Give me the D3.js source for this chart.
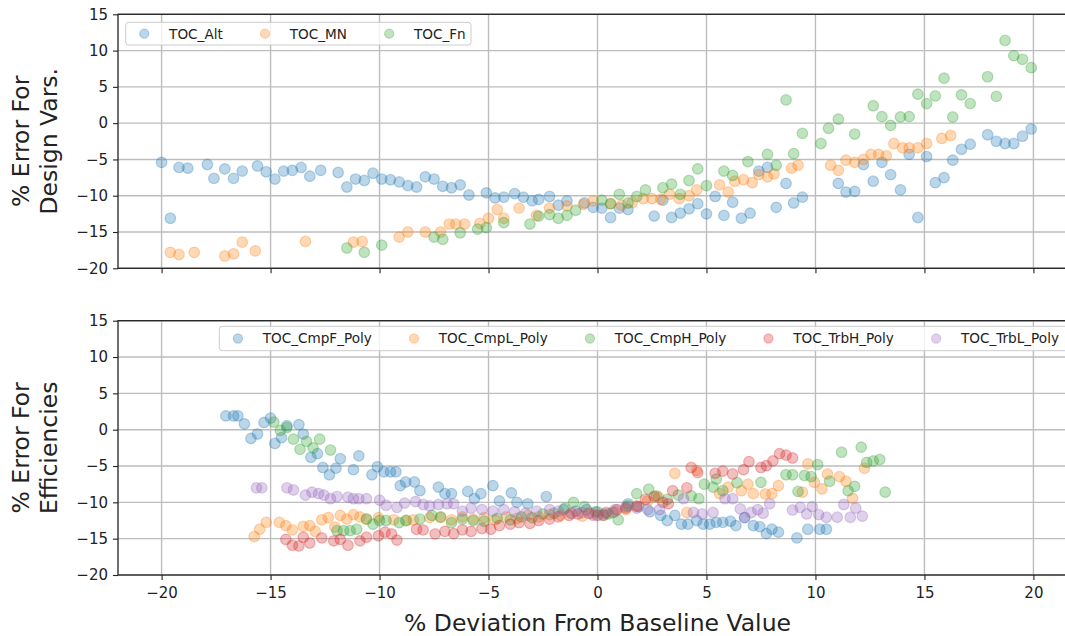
<!DOCTYPE html>
<html>
<head>
<meta charset="utf-8">
<script src="https://cdn.jsdelivr.net/npm/d3@7"></script>
<style>
  html, body { margin: 0; padding: 0; background: #fff; overflow: hidden; }
  svg { display: block; font-family: "DejaVu Sans", sans-serif; }
</style>
</head>
<body>
<svg id="chart" width="1065" height="636"></svg>
<script>
// ---------- data ----------
const xTicks = [-20, -15, -10, -5, 0, 5, 10, 15, 20];
const yTicks = [-20, -15, -10, -5, 0, 5, 10, 15];

const topSeriesNames = ["TOC_Alt", "TOC_MN", "TOC_Fn"];
const botSeriesNames = ["TOC_CmpF_Poly", "TOC_CmpL_Poly", "TOC_CmpH_Poly", "TOC_TrbH_Poly", "TOC_TrbL_Poly"];
const seriesColors = ["#1f77b4", "#ff7f0e", "#2ca02c", "#d62728", "#9467bd"];

const tocAlt = [[-20,-5.4],[-19.6,-13.1],[-19.2,-6.1],[-18.8,-6.2],[-17.9,-5.7],[-17.6,-7.6],[-17.1,-6.3],[-16.7,-7.6],[-16.3,-6.6],[-15.6,-5.9],[-15.2,-6.7],[-14.8,-7.7],[-14.4,-6.6],[-14.0,-6.5],[-13.6,-6.1],[-13.2,-7.3],[-12.7,-6.5],[-11.9,-6.8],[-11.5,-8.8],[-11.1,-7.7],[-10.7,-7.9],[-10.3,-6.9],[-9.9,-7.7],[-9.5,-7.8],[-9.1,-8.1],[-8.7,-8.6],[-8.3,-8.8],[-7.9,-7.4],[-7.5,-7.7],[-7.1,-8.7],[-6.7,-8.9],[-6.3,-8.5],[-5.9,-9.9],[-5.1,-9.6],[-4.7,-10.3],[-4.3,-10.2],[-3.8,-9.7],[-3.4,-10.2],[-3.0,-10.7],[-2.7,-10.5],[-2.2,-10.1],[-1.8,-11.3],[-1.4,-10.7],[-0.6,-11.0],[-0.2,-11.6],[0.2,-11.7],[0.6,-13.0],[1.0,-11.7],[1.4,-11.9],[2.6,-12.8],[3.0,-10.6],[3.4,-13.0],[3.8,-12.4],[4.2,-11.8],[4.6,-11.1],[5.0,-12.5],[5.4,-10.1],[5.8,-12.7],[6.2,-10.9],[6.6,-13.1],[7.0,-12.4],[7.4,-6.6],[7.8,-6.1],[8.2,-11.6],[8.65,-8.3],[9.0,-11.0],[9.4,-10.2],[11.05,-8.3],[11.4,-9.5],[11.8,-9.4],[12.2,-5.7],[12.65,-8.0],[13.05,-5.4],[13.45,-7.1],[13.9,-9.2],[14.3,-4.3],[14.7,-13.0],[15.1,-4.6],[15.5,-8.2],[15.9,-7.5],[16.3,-5.1],[16.7,-3.6],[17.1,-2.9],[17.9,-1.6],[18.3,-2.5],[18.7,-2.8],[19.1,-2.8],[19.5,-1.8],[19.9,-0.8]];

const tocMN = [[-19.6,-17.8],[-19.2,-18.1],[-18.5,-17.8],[-17.1,-18.3],[-16.7,-18.0],[-16.3,-16.4],[-15.7,-17.6],[-13.4,-16.3],[-11.2,-16.4],[-10.8,-16.3],[-9.1,-15.7],[-8.7,-15.0],[-7.9,-15.0],[-7.2,-15.0],[-6.8,-13.9],[-6.5,-13.9],[-6.1,-13.9],[-5.4,-13.8],[-5.0,-13.1],[-4.6,-11.9],[-4.3,-13.1],[-3.6,-11.7],[-2.8,-12.7],[-2.2,-11.7],[-1.4,-11.4],[-0.65,-11.2],[-0.2,-10.7],[0.6,-11.1],[1.1,-11.3],[1.6,-10.9],[2.1,-10.4],[2.5,-10.4],[2.9,-10.5],[3.3,-9.8],[3.75,-10.4],[4.2,-10.0],[4.55,-9.2],[5.6,-8.5],[6.0,-9.5],[6.3,-8.0],[6.7,-7.8],[7.1,-8.2],[7.4,-7.1],[7.8,-7.4],[8.1,-7.0],[8.9,-6.2],[9.2,-5.8],[10.7,-5.8],[11.05,-6.5],[11.4,-5.1],[11.8,-5.4],[12.2,-5.0],[12.55,-4.3],[12.9,-4.3],[13.25,-4.5],[13.6,-2.8],[14.0,-3.4],[14.3,-3.4],[14.7,-3.4],[15.1,-2.8],[15.8,-2.1],[16.2,-1.7]];

const tocFn = [[-11.5,-17.2],[-10.7,-17.8],[-9.9,-16.8],[-7.5,-15.7],[-7.1,-16.0],[-6.3,-15.1],[-5.5,-14.6],[-5.1,-14.4],[-4.3,-13.7],[-3.1,-13.9],[-2.7,-12.8],[-2.2,-12.6],[-1.8,-13.1],[-1.4,-12.7],[-1.0,-12.0],[0.2,-10.6],[0.6,-11.1],[1.0,-9.8],[1.4,-11.0],[1.8,-10.1],[2.2,-9.2],[3.0,-8.9],[3.4,-8.4],[3.8,-9.8],[4.2,-7.9],[4.6,-6.3],[5.0,-8.6],[5.8,-6.6],[6.2,-7.2],[6.9,-5.3],[7.8,-4.3],[8.2,-5.8],[8.65,3.2],[9.0,-4.2],[9.4,-1.4],[10.25,-2.8],[10.6,-0.7],[11.05,0.55],[11.8,-1.5],[12.65,2.4],[13.05,0.9],[13.45,-0.3],[13.9,0.85],[14.3,0.9],[14.7,4.0],[15.1,2.7],[15.5,3.75],[15.9,6.2],[16.3,0.85],[16.7,3.9],[17.1,2.7],[17.9,6.4],[18.3,3.7],[18.7,11.4],[19.1,9.3],[19.5,8.8],[19.9,7.65]];

const tocCmpF = [[-17.05,1.9],[-16.7,1.9],[-16.5,1.9],[-16.2,0.8],[-15.9,-1.2],[-15.6,-0.6],[-15.3,1.0],[-15.0,1.6],[-14.8,-1.9],[-14.5,-1.1],[-14.25,0.55],[-13.7,0.7],[-13.5,-0.6],[-13.15,-3.8],[-12.85,-3.3],[-12.6,-5.2],[-12.3,-6.2],[-12.0,-5.3],[-11.8,-4.0],[-11.2,-5.5],[-10.95,-3.6],[-10.35,-6.2],[-10.1,-5.1],[-9.8,-5.8],[-9.5,-5.8],[-9.25,-5.8],[-9.05,-7.7],[-8.8,-7.2],[-8.4,-7.2],[-8.15,-8.4],[-7.3,-7.9],[-7.0,-8.8],[-6.7,-8.8],[-5.95,-8.5],[-5.65,-9.5],[-5.35,-8.8],[-4.8,-7.7],[-4.5,-9.8],[-3.95,-8.7],[-3.7,-10.0],[-3.2,-10.2],[-2.35,-9.2],[-1.55,-11.0],[-1.0,-11.2],[-0.5,-11.0],[-0.1,-11.3],[0.25,-11.8],[0.7,-11.4],[1.4,-10.2],[1.9,-10.6],[2.4,-11.3],[2.9,-11.8],[3.2,-12.5],[3.55,-11.8],[3.85,-13.0],[4.15,-13.0],[4.55,-12.5],[4.85,-13.0],[5.15,-13.0],[5.45,-12.75],[5.75,-12.75],[6.1,-12.6],[6.35,-13.2],[6.75,-12.1],[7.15,-13.2],[7.45,-13.35],[7.75,-14.3],[8.0,-13.7],[8.3,-14.1],[9.15,-14.9],[9.65,-13.7],[10.2,-13.7],[10.5,-13.7]];

const tocCmpL = [[-15.75,-14.7],[-15.5,-13.7],[-15.2,-12.75],[-14.6,-12.75],[-14.3,-13.2],[-14.0,-13.8],[-13.5,-13.3],[-13.2,-13.2],[-12.95,-14.0],[-12.65,-12.4],[-12.35,-12.1],[-12.05,-13.4],[-11.8,-11.8],[-11.5,-12.3],[-11.2,-11.7],[-10.9,-12.0],[-10.6,-12.3],[-10.05,-12.1],[-9.35,-12.4],[-8.75,-12.5],[-8.45,-12.4],[-7.7,-12.1],[-7.2,-12.1],[-6.7,-12.4],[-6.2,-12.0],[-5.7,-12.3],[-5.2,-12.1],[-4.7,-12.4],[-4.2,-12.0],[-3.7,-12.2],[-3.2,-11.8],[-2.7,-12.0],[-2.2,-11.7],[-1.7,-11.8],[-1.2,-11.5],[-0.7,-11.9],[-0.2,-11.6],[0.3,-11.8],[0.8,-11.3],[1.3,-11.0],[1.8,-10.6],[2.3,-9.8],[2.8,-9.3],[3.55,-6.0],[4.1,-11.4],[4.55,-5.6],[5.6,-8.8],[6.0,-7.9],[6.6,-8.4],[6.9,-7.5],[7.15,-8.8],[7.7,-8.85],[8.0,-8.8],[8.3,-7.7],[9.4,-8.6],[9.65,-4.7],[9.95,-7.25],[10.3,-8.15],[10.55,-6.1],[11.1,-6.45],[11.4,-7.1],[11.7,-9.45],[12.25,-5.3]];

const tocCmpH = [[-14.85,1.05],[-14.55,-0.1],[-14.25,0.3],[-13.95,-1.3],[-13.65,-2.7],[-13.35,-1.6],[-13.05,-2.5],[-12.75,-1.3],[-12.25,-2.8],[-11.95,-13.9],[-11.65,-13.9],[-11.35,-13.9],[-11.05,-13.7],[-10.6,-12.3],[-10.3,-13.0],[-10.0,-12.5],[-9.7,-12.5],[-9.1,-12.8],[-8.8,-12.5],[-8.15,-12.3],[-7.6,-11.8],[-7.2,-12.0],[-6.7,-12.8],[-6.2,-12.3],[-5.7,-12.5],[-5.2,-12.6],[-4.6,-12.2],[-4.0,-12.4],[-3.5,-12.0],[-3.0,-12.1],[-2.5,-11.6],[-2.0,-11.5],[-1.5,-10.8],[-1.1,-10.0],[-0.6,-10.6],[0.0,-11.3],[0.5,-11.6],[0.95,-12.4],[1.4,-10.5],[1.8,-8.8],[2.35,-8.2],[2.7,-9.1],[3.2,-9.6],[3.7,-9.0],[4.3,-9.1],[4.65,-9.5],[4.9,-7.5],[5.3,-7.9],[5.45,-6.8],[5.75,-8.4],[6.4,-7.3],[7.5,-7.25],[8.65,-6.2],[8.95,-6.2],[9.2,-8.5],[9.5,-6.3],[9.8,-6.45],[10.1,-4.8],[10.65,-7.1],[11.2,-3.1],[11.5,-8.4],[11.8,-7.8],[12.1,-2.4],[12.35,-4.5],[12.65,-4.3],[12.95,-4.1],[13.2,-8.6]];

const tocTrbH = [[-14.3,-15.1],[-14.0,-15.9],[-13.7,-16.0],[-13.5,-14.8],[-13.2,-15.6],[-12.65,-14.9],[-12.1,-15.3],[-11.8,-15.1],[-11.45,-15.9],[-10.9,-15.3],[-10.6,-14.8],[-10.05,-14.6],[-9.75,-14.1],[-9.45,-14.35],[-9.2,-15.2],[-8.3,-13.7],[-8.0,-13.8],[-7.45,-14.35],[-7.0,-14.0],[-6.6,-14.3],[-6.2,-13.8],[-5.8,-14.0],[-5.3,-13.6],[-4.9,-13.7],[-4.5,-13.2],[-4.0,-13.0],[-3.6,-12.8],[-3.1,-12.9],[-2.7,-12.5],[-2.2,-12.3],[-1.8,-12.0],[-1.3,-11.8],[-0.9,-11.6],[-0.4,-11.5],[0.0,-11.8],[0.4,-11.4],[0.9,-11.0],[1.3,-10.8],[1.8,-10.5],[2.2,-9.6],[2.6,-9.2],[3.0,-10.0],[3.25,-10.2],[3.45,-8.4],[4.1,-8.0],[4.3,-5.2],[4.6,-5.9],[5.4,-6.0],[5.75,-5.7],[6.2,-6.1],[6.7,-5.5],[6.95,-4.4],[7.5,-5.2],[7.75,-4.95],[8.05,-4.3],[8.35,-3.3],[8.65,-3.5],[8.95,-3.9]];

const tocTrbL = [[-15.65,-8.0],[-15.4,-8.0],[-14.25,-8.0],[-13.95,-8.3],[-13.4,-9.0],[-13.1,-8.6],[-12.8,-8.8],[-12.55,-9.0],[-12.25,-9.5],[-11.95,-9.2],[-11.45,-9.3],[-11.2,-9.5],[-10.95,-9.5],[-10.6,-9.5],[-10.0,-9.7],[-9.7,-10.4],[-9.2,-10.7],[-8.85,-10.1],[-8.35,-9.9],[-8.0,-10.3],[-7.7,-10.5],[-7.3,-10.3],[-6.9,-10.2],[-6.6,-10.2],[-6.2,-11.2],[-5.8,-10.8],[-5.3,-11.0],[-4.8,-11.2],[-4.3,-11.0],[-3.8,-11.3],[-3.3,-11.5],[-2.8,-11.2],[-2.2,-11.0],[-1.8,-11.2],[-1.2,-11.5],[-0.7,-11.4],[-0.2,-11.8],[0.3,-11.6],[0.8,-11.0],[1.3,-10.6],[1.8,-10.8],[2.3,-11.0],[2.85,-11.0],[3.95,-9.5],[4.4,-11.4],[4.8,-11.6],[5.3,-11.4],[5.85,-9.5],[6.2,-9.5],[6.55,-10.9],[6.75,-12.1],[7.05,-11.4],[7.35,-11.0],[7.6,-11.5],[7.9,-10.2],[8.95,-11.05],[9.3,-10.7],[9.6,-11.6],[9.85,-10.6],[10.15,-11.7],[10.5,-12.05],[11.0,-12.05],[11.3,-10.3],[11.6,-12.05],[11.85,-10.8],[12.15,-11.9]];

const topSeries = [tocAlt, tocMN, tocFn];
const botSeries = [tocCmpF, tocCmpL, tocCmpH, tocTrbH, tocTrbL];

// ---------- layout ----------
const svg = d3.select("#chart");
const FONT = "DejaVu Sans, sans-serif";
const left = 118, right = 1077;
const x = d3.scaleLinear().domain([-22, 22]).range([left, right]);
const panels = [
  { top: 14.3, bottom: 268.3, series: topSeries, names: topSeriesNames, label: ["% Error For", "Design Vars."], showX: false,
    legend: { x: 125.7, y: 22.3, h: 22.7, w: 345.3 } },
  { top: 320.7, bottom: 575, series: botSeries, names: botSeriesNames, label: ["% Error For", "Efficiencies"], showX: true,
    legend: { x: 219.3, y: 326.3, h: 24.4, w: null } }
];
const fmt = v => (v < 0 ? "\u2212" + Math.abs(v) : String(v));

panels.forEach((p, pi) => {
  const y = d3.scaleLinear().domain([-20, 15]).range([p.bottom, p.top]);
  const g = svg.append("g");

  // grid
  g.append("g").selectAll("line.gx").data(xTicks).join("line")
    .attr("x1", d => x(d)).attr("x2", d => x(d))
    .attr("y1", p.top).attr("y2", p.bottom)
    .attr("stroke", "#bdbdbd").attr("stroke-width", 1.4);
  g.append("g").selectAll("line.gy").data(yTicks).join("line")
    .attr("x1", left).attr("x2", right)
    .attr("y1", d => y(d)).attr("y2", d => y(d))
    .attr("stroke", "#bdbdbd").attr("stroke-width", 1.4);

  // points
  p.series.forEach((s, si) => {
    g.append("g").selectAll("circle").data(s).join("circle")
      .attr("cx", d => x(d[0])).attr("cy", d => y(d[1])).attr("r", 5.3)
      .attr("fill", seriesColors[si]).attr("fill-opacity", 0.3)
      .attr("stroke", seriesColors[si]).attr("stroke-opacity", 0.3).attr("stroke-width", 1.2);
  });

  // axes
  const ax = d3.axisBottom(x).tickValues(xTicks).tickSize(5).tickPadding(7).tickFormat(p.showX ? fmt : () => "");
  const gx = g.append("g").attr("transform", `translate(0,${p.bottom})`).call(ax);
  const ay = d3.axisLeft(y).tickValues(yTicks).tickSize(5).tickPadding(5).tickFormat(fmt);
  const gy = g.append("g").attr("transform", `translate(${left},0)`).call(ay);
  [gx, gy].forEach(a => {
    a.select(".domain").remove();
    a.selectAll(".tick line").attr("stroke", "#222").attr("stroke-width", 1.1);
    a.selectAll(".tick text").attr("fill", "#222").style("font-family", FONT).style("font-size", "15px");
  });

  // frame
  g.append("rect").attr("x", left).attr("y", p.top).attr("width", right - left).attr("height", p.bottom - p.top)
    .attr("fill", "none").attr("stroke", "#222").attr("stroke-width", 1.3);

  // y label
  const cy = (p.top + p.bottom) / 2;
  const yl = g.append("text").attr("transform", `translate(0,${cy}) rotate(-90)`)
    .attr("text-anchor", "middle").attr("fill", "#222")
    .style("font-family", FONT).style("font-size", "23.5px");
  yl.append("tspan").attr("x", 0).attr("y", 29).text(p.label[0]);
  yl.append("tspan").attr("x", 0).attr("y", 57).text(p.label[1]);

  // legend
  const lg = g.append("g");
  const box = lg.append("rect").attr("x", p.legend.x).attr("y", p.legend.y).attr("height", p.legend.h)
    .attr("rx", 3).attr("fill", "#fff").attr("fill-opacity", 0.8).attr("stroke", "#cccccc").attr("stroke-width", 1);
  const ly = p.legend.y + p.legend.h / 2;
  let mx = p.legend.x + 18.6;
  p.names.forEach((n, i) => {
    lg.append("circle").attr("cx", mx).attr("cy", ly).attr("r", 4.6)
      .attr("fill", seriesColors[i]).attr("fill-opacity", 0.3)
      .attr("stroke", seriesColors[i]).attr("stroke-opacity", 0.3).attr("stroke-width", 1.1);
    const t = lg.append("text").attr("x", mx + 24.8).attr("y", ly).attr("dy", "0.36em")
      .attr("fill", "#222").style("font-family", FONT).style("font-size", "13.6px").text(n);
    const w = t.node().getComputedTextLength();
    mx = mx + 24.8 + w + 42.2;
  });
  const endX = mx - 42.2 - 18.6 + 14;
  box.attr("width", p.legend.w != null ? p.legend.w : endX - p.legend.x + 20);
});

// x label
svg.append("text").attr("x", x(0)).attr("y", 631).attr("text-anchor", "middle")
  .attr("fill", "#222").style("font-family", FONT).style("font-size", "23.5px")
  .text("% Deviation From Baseline Value");
</script>
</body>
</html>
